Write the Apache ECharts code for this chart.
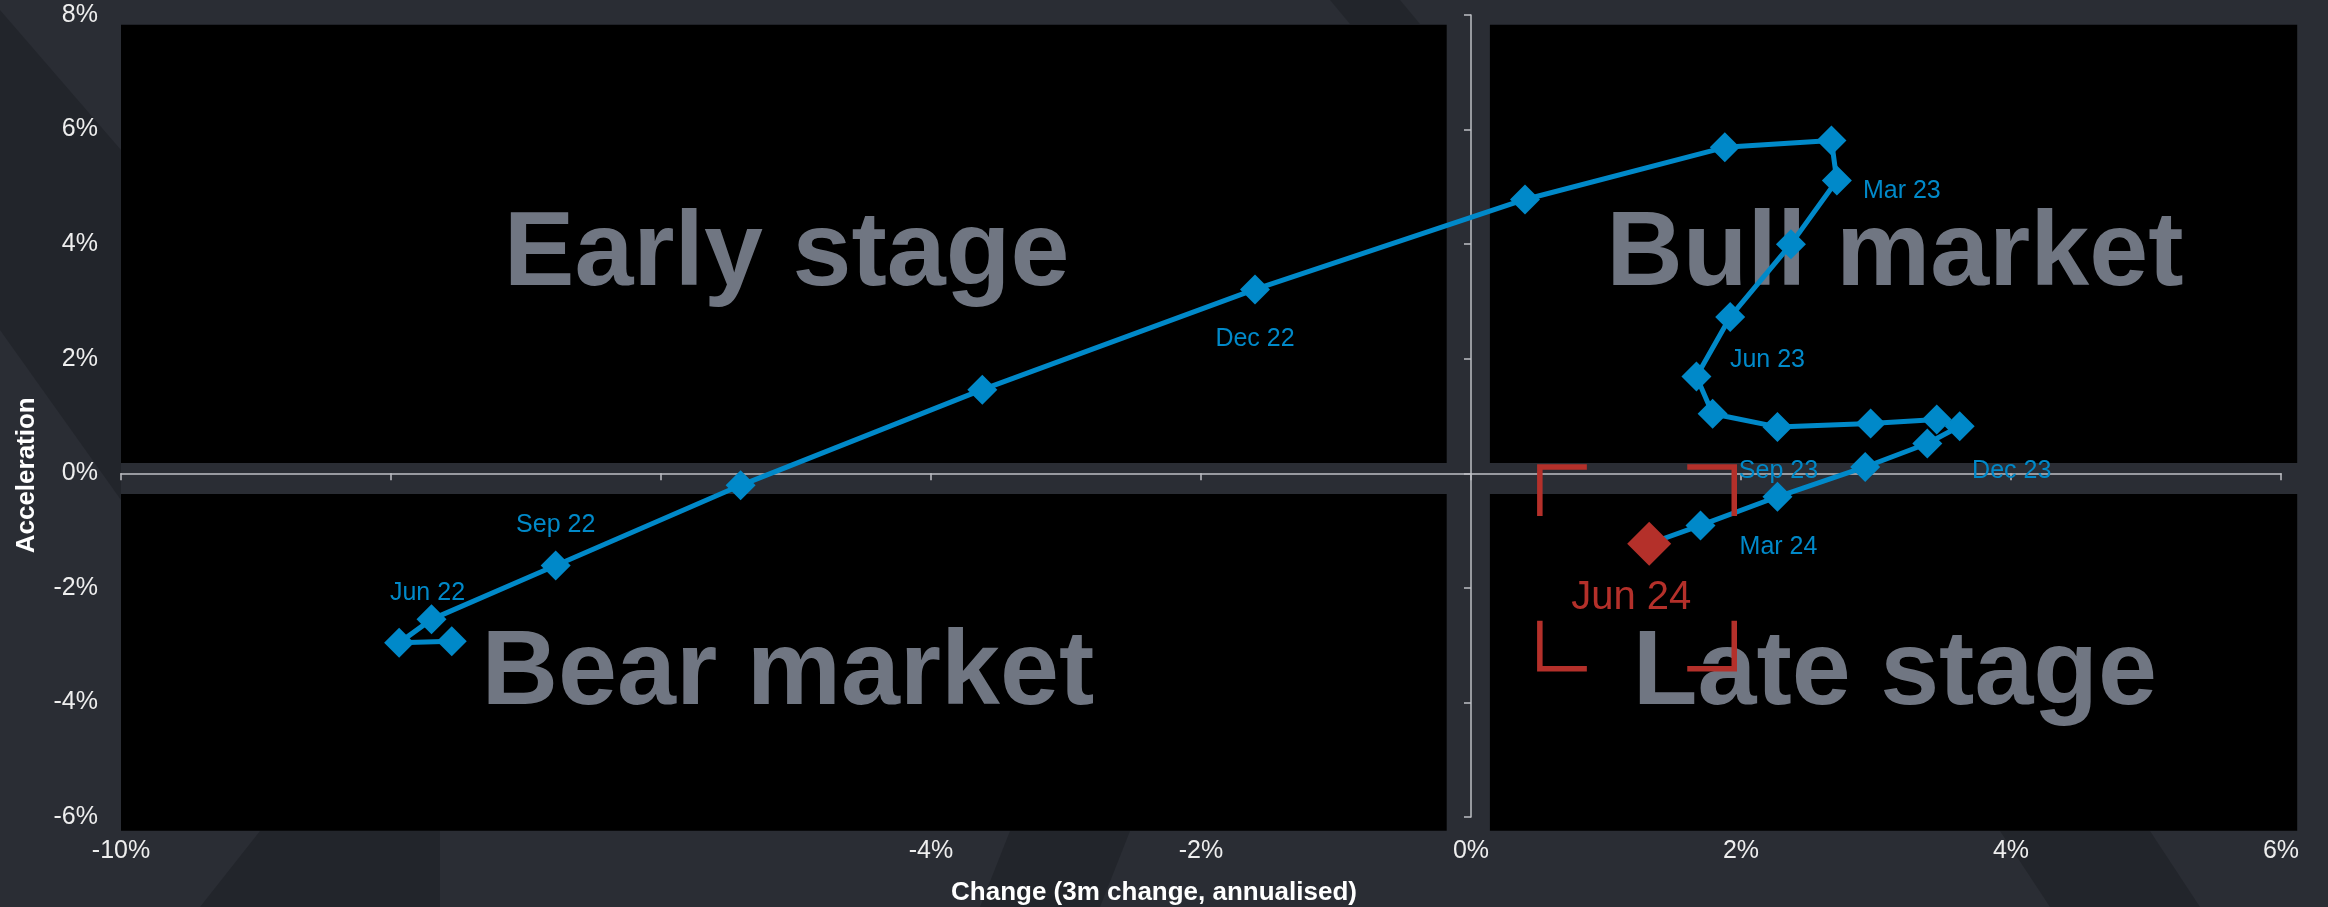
<!DOCTYPE html>
<html>
<head>
<meta charset="utf-8">
<script src="https://cdn.jsdelivr.net/npm/echarts@6/dist/echarts.min.js"></script>
<style>
  html, body { margin: 0; padding: 0; background: #2a2d34; }
  #chart { width: 2328px; height: 907px; }
</style>
</head>
<body>
<div id="chart"></div>
<script>
// ---- Data ----
// x: Change (3m change, annualised), %
const changeValues = [-7.55, -7.94, -7.70, -6.78, -5.41, -3.62, -1.60, 0.40, 1.88, 2.67, 2.71, 2.37, 1.92, 1.67, 1.79, 2.27, 2.96, 3.45, 3.62, 3.38, 2.92, 2.27, 1.70, 1.32];
// y: Acceleration, %
const accelValues = [-2.93, -2.96, -2.55, -1.61, -0.21, 1.46, 3.21, 4.78, 5.69, 5.81, 5.11, 4.00, 2.73, 1.69, 1.04, 0.81, 0.87, 0.94, 0.82, 0.52, 0.11, -0.41, -0.91, -1.23];
// date labels attached to points ('' = no label)
const pointLabels = ['', '', 'Jun 22', 'Sep 22', '', '', 'Dec 22', '', '', '', 'Mar 23', '', '', 'Jun 23', '', 'Sep 23', '', '', 'Dec 23', '', '', '', 'Mar 24', 'Jun 24'];
const quadrantNames = ['Early stage', 'Bull market', 'Bear market', 'Late stage'];
const xTicks = [-10, -8, -6, -4, -2, 0, 2, 4, 6];
const xTickLabels = ['-10%', '', '', '-4%', '-2%', '0%', '2%', '4%', '6%'];
const yTicks = [-6, -4, -2, 0, 2, 4, 6, 8];
const yTickLabels = ['-6%', '-4%', '-2%', '0%', '2%', '4%', '6%', '8%'];

// ---- Styling (positions/offsets kept separate from data) ----
const FONT = 'Liberation Sans, Arial, Helvetica, sans-serif';
const BLUE = '#0089c9';
const RED = '#b4302a';
const AXIS = '#bdbfc3';
const labelOffsets = {
  2: [-4, -26], 3: [0, -40], 6: [0, 50], 10: [65, 11], 13: [71, -16],
  15: [1, 44], 18: [52, 45], 22: [78, 22], 23: [-18, 54]
};
const lastIdx = changeValues.length - 1;

const seriesData = changeValues.map((x, i) => {
  const item = { value: [x, accelValues[i]] };
  if (pointLabels[i]) {
    const isLast = i === lastIdx;
    item.label = {
      show: true,
      formatter: pointLabels[i],
      position: 'inside',
      offset: labelOffsets[i] || [0, -30],
      color: isLast ? RED : BLUE,
      fontSize: isLast ? 40 : 25,
      fontFamily: FONT
    };
  }
  if (i === lastIdx) {
    item.symbolSize = 44;
    item.itemStyle = { color: RED };
  }
  return item;
});

function tickLabel(ticks, labels) {
  return v => {
    const k = ticks.findIndex(t => Math.abs(t - v) < 1e-9);
    return k >= 0 ? labels[k] : '';
  };
}

const chart = echarts.init(document.getElementById('chart'), null, { renderer: 'canvas' });

const gridL = 121, gridR = 47, gridT = 15, gridB = 90;

const option = {
  backgroundColor: '#2a2d34',
  animation: false,
  grid: { left: gridL, right: gridR, top: gridT, bottom: gridB, containLabel: false },
  xAxis: [
    {
      type: 'value', min: xTicks[0], max: xTicks[xTicks.length - 1], interval: 2,
      axisLine: { show: true, onZero: true, lineStyle: { color: AXIS, width: 1.5 } },
      axisTick: { show: true, length: 7, lineStyle: { color: AXIS, width: 1.5 } },
      axisLabel: { show: false },
      splitLine: { show: false }
    },
    {
      type: 'value', position: 'bottom', min: xTicks[0], max: xTicks[xTicks.length - 1], interval: 2,
      axisLine: { show: false, onZero: false },
      axisTick: { show: false },
      axisLabel: {
        show: true, margin: 22, color: '#eeeeee', fontSize: 25, fontFamily: FONT,
        showMinLabel: true, showMaxLabel: true,
        formatter: tickLabel(xTicks, xTickLabels)
      },
      splitLine: { show: false }
    }
  ],
  yAxis: [
    {
      type: 'value', min: yTicks[0], max: yTicks[yTicks.length - 1], interval: 2,
      axisLine: { show: true, onZero: true, lineStyle: { color: AXIS, width: 1.5 } },
      axisTick: { show: true, length: 7, lineStyle: { color: AXIS, width: 1.5 } },
      axisLabel: { show: false },
      splitLine: { show: false }
    },
    {
      type: 'value', position: 'left', min: yTicks[0], max: yTicks[yTicks.length - 1], interval: 2,
      axisLine: { show: false, onZero: false },
      axisTick: { show: false },
      axisLabel: {
        show: true, margin: 23, color: '#eeeeee', fontSize: 25, fontFamily: FONT,
        showMinLabel: true, showMaxLabel: true, padding: [7, 0, 0, 0],
        formatter: tickLabel(yTicks, yTickLabels)
      },
      splitLine: { show: false }
    }
  ],
  series: [
    {
      type: 'line',
      xAxisIndex: 0, yAxisIndex: 0,
      data: seriesData,
      symbol: 'diamond',
      symbolSize: 30,
      lineStyle: { color: BLUE, width: 5 },
      itemStyle: { color: BLUE },
      z: 5,
      clip: false
    }
  ]
};
chart.setOption(option);

// ---- Decorations: quadrant panels, names, bracket, axis titles ----
function px(x, y) { return chart.convertToPixel({ xAxisIndex: 0, yAxisIndex: 0 }, [x, y]); }
const g = [];
// black quadrant panels (gap around the axes)
const tl = px(-10, 7.83), gapL = px(-0.18, 0.18), gapR = px(0.14, -0.36), br = px(6.12, -6.24);
g.push({ type: 'rect', z: 0, shape: { x: tl[0], y: tl[1], width: gapL[0] - tl[0], height: gapL[1] - tl[1] }, style: { fill: '#000' } });
g.push({ type: 'rect', z: 0, shape: { x: gapR[0], y: tl[1], width: br[0] - gapR[0], height: gapL[1] - tl[1] }, style: { fill: '#000' } });
g.push({ type: 'rect', z: 0, shape: { x: tl[0], y: gapR[1], width: gapL[0] - tl[0], height: br[1] - gapR[1] }, style: { fill: '#000' } });
g.push({ type: 'rect', z: 0, shape: { x: gapR[0], y: gapR[1], width: br[0] - gapR[0], height: br[1] - gapR[1] }, style: { fill: '#000' } });

// quadrant names
const qPos = [[-5.07, 3.80], [3.14, 3.80], [-5.06, -3.52], [3.14, -3.52]];
quadrantNames.forEach((name, i) => {
  const p = px(qPos[i][0], qPos[i][1]);
  g.push({
    type: 'text', z: 1, x: p[0], y: p[1],
    style: { text: name, fill: '#707682', font: 'bold 106px ' + FONT, textAlign: 'center', textVerticalAlign: 'middle' }
  });
});

// red corner bracket around latest point
const b0 = px(changeValues[lastIdx] - 0.81, accelValues[lastIdx] + 1.34);
const b1 = px(changeValues[lastIdx] + 0.63, accelValues[lastIdx] - 2.18);
const arm = 47;
const corners = [
  [[b0[0], b0[1] + arm + 2], [b0[0], b0[1]], [b0[0] + arm, b0[1]]],
  [[b1[0] - arm, b0[1]], [b1[0], b0[1]], [b1[0], b0[1] + arm + 2]],
  [[b0[0], b1[1] - arm - 1], [b0[0], b1[1]], [b0[0] + arm, b1[1]]],
  [[b1[0] - arm, b1[1]], [b1[0], b1[1]], [b1[0], b1[1] - arm - 1]]
];
corners.forEach(pts => g.push({
  type: 'polyline', z: 20, shape: { points: pts },
  style: { stroke: RED, lineWidth: 5.5, lineCap: 'butt', lineJoin: 'miter', fill: null }
}));

// axis titles
const zero = px(0, 0);
g.push({
  type: 'text', z: 1, x: 1154, y: 893,
  style: { text: 'Change (3m change, annualised)', fill: '#ffffff', font: 'bold 26px ' + FONT, textAlign: 'center', textVerticalAlign: 'middle' }
});
g.push({
  type: 'text', z: 1, x: 27, y: zero[1] + 2, rotation: Math.PI / 2,
  style: { text: 'Acceleration', fill: '#ffffff', font: 'bold 26px ' + FONT, textAlign: 'center', textVerticalAlign: 'middle' }
});

// subtle background diagonal shapes
const bgShapes = [
  [[0, 10], [0, 330], [121, 500], [121, 150]],
  [[200, 907], [440, 907], [440, 831], [260, 831]],
  [[980, 907], [1100, 907], [1130, 831], [1010, 831]],
  [[2050, 907], [2200, 907], [2150, 831], [2000, 831]],
  [[1330, 0], [1400, 0], [1420, 24], [1350, 24]]
];
bgShapes.forEach(pts => g.push({
  type: 'polygon', z: -1, shape: { points: pts }, style: { fill: '#22252b' }
}));

chart.setOption({ graphic: { elements: g } });
</script>
</body>
</html>
